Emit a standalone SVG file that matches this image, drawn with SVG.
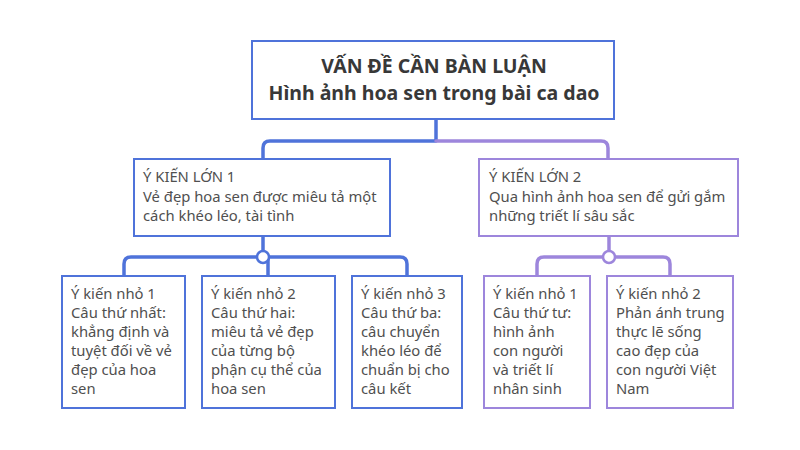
<svg xmlns="http://www.w3.org/2000/svg" width="800" height="450" viewBox="0 0 800 450">
<style>
.box{fill:#fff;stroke-width:2}
.b{stroke:#4f73da}
.p{stroke:#9d86dc}
.ln{fill:none;stroke-width:3.5;stroke-linecap:round;stroke-linejoin:round}
.t{font-family:"Noto Sans","Open Sans",sans-serif;font-size:14.8px;fill:#505050}
.h{font-family:"Noto Sans","Open Sans",sans-serif;font-size:19.5px;font-weight:bold;fill:#383838;text-anchor:middle}
</style>
<rect width="800" height="450" fill="#fff"/>
<g id="connectors">
<path class="ln b" d="M436,119 V141 H270 Q263,141 263,148 V159"/>
<path class="ln p" d="M436,141 H601 Q608,141 608,148 V159"/>
<path class="ln b" d="M263,236 V257 M131,257 H400 Q407,257 407,264 V276 M131,257 Q124,257 124,264 V276 M268,257 V276"/>
<circle cx="263" cy="257" r="6" fill="#fff" stroke="#4f73da" stroke-width="2.5"/>
<path class="ln p" d="M609,236 V257 M544,257 H663 Q670,257 670,264 V276 M544,257 Q537,257 537,264 V276"/>
<circle cx="609" cy="257" r="6" fill="#fff" stroke="#9d86dc" stroke-width="2.5"/>
</g>
<g id="root">
<rect class="box b" x="252" y="41" width="362" height="78"/>
<text class="h" x="434" y="73">VẤN ĐỀ CẦN BÀN LUẬN</text>
<text class="h" x="434" y="100">Hình ảnh hoa sen trong bài ca dao</text>
</g>
<g id="big1">
<rect class="box b" x="134" y="159" width="256" height="77"/>
<text class="t" x="143" y="182">Ý KIẾN LỚN 1</text>
<text class="t" x="143" y="202">Vẻ đẹp hoa sen được miêu tả một</text>
<text class="t" x="143" y="221">cách khéo léo, tài tình</text>
</g>
<g id="big2">
<rect class="box p" x="479" y="159" width="259" height="77"/>
<text class="t" x="489" y="182">Ý KIẾN LỚN 2</text>
<text class="t" x="489" y="202">Qua hình ảnh hoa sen để gửi gắm</text>
<text class="t" x="489" y="221">những triết lí sâu sắc</text>
</g>
<g id="small1">
<rect class="box b" x="62" y="276" width="123" height="132"/>
<text class="t" x="71" y="299">Ý kiến nhỏ 1</text>
<text class="t" x="71" y="318">Câu thứ nhất:</text>
<text class="t" x="71" y="337">khẳng định và</text>
<text class="t" x="71" y="356">tuyệt đối về vẻ</text>
<text class="t" x="71" y="375">đẹp của hoa</text>
<text class="t" x="71" y="394">sen</text>
</g>
<g id="small2">
<rect class="box b" x="202" y="276" width="133" height="132"/>
<text class="t" x="211" y="299">Ý kiến nhỏ 2</text>
<text class="t" x="211" y="318">Câu thứ hai:</text>
<text class="t" x="211" y="337">miêu tả vẻ đẹp</text>
<text class="t" x="211" y="356">của từng bộ</text>
<text class="t" x="211" y="375">phận cụ thể của</text>
<text class="t" x="211" y="394">hoa sen</text>
</g>
<g id="small3">
<rect class="box b" x="352" y="276" width="110" height="132"/>
<text class="t" x="361" y="299">Ý kiến nhỏ 3</text>
<text class="t" x="361" y="318">Câu thứ ba:</text>
<text class="t" x="361" y="337">câu chuyển</text>
<text class="t" x="361" y="356">khéo léo để</text>
<text class="t" x="361" y="375">chuẩn bị cho</text>
<text class="t" x="361" y="394">câu kết</text>
</g>
<g id="small4">
<rect class="box p" x="484" y="276" width="106" height="132"/>
<text class="t" x="493" y="299">Ý kiến nhỏ 1</text>
<text class="t" x="493" y="318">Câu thứ tư:</text>
<text class="t" x="493" y="337">hình ảnh</text>
<text class="t" x="493" y="356">con người</text>
<text class="t" x="493" y="375">và triết lí</text>
<text class="t" x="493" y="394">nhân sinh</text>
</g>
<g id="small5">
<rect class="box p" x="607" y="276" width="126" height="132"/>
<text class="t" x="616" y="299">Ý kiến nhỏ 2</text>
<text class="t" x="616" y="318">Phản ánh trung</text>
<text class="t" x="616" y="337">thực lẽ sống</text>
<text class="t" x="616" y="356">cao đẹp của</text>
<text class="t" x="616" y="375">con người Việt</text>
<text class="t" x="616" y="394">Nam</text>
</g>
</svg>
